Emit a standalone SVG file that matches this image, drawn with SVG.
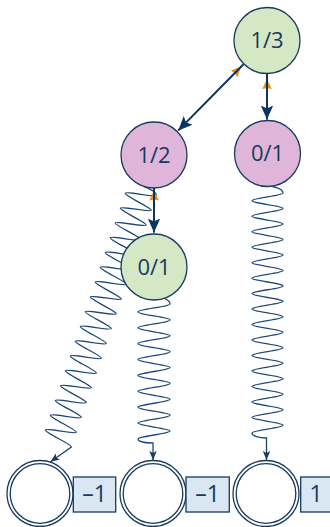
<svg xmlns="http://www.w3.org/2000/svg" width="330" height="527" viewBox="0 0 330 527">
  <style>
    .node { stroke: #173a5e; stroke-width: 1.3; }
    .green { fill: #d5e8c5; }
    .purple { fill: #dfb6d9; }
    .leaf { fill: #ffffff; stroke: #173a5e; stroke-width: 1.3; }
    .box { fill: #d8e7f2; stroke: #173a5e; stroke-width: 1.3; }
    .lbl { font-family: "Open Sans", "Noto Sans", sans-serif; font-size: 22px; fill: #173a5e; text-anchor: middle; }
    .val { font-size: 23px; }
    .spring { fill: none; stroke: #1d4676; stroke-width: 1.3; marker-end: url(#ah-spring); }
    .edge { fill: none; stroke: #0d3360; stroke-width: 2; marker-end: url(#ah-dark); }
    .back { fill: none; stroke: #ef8a10; stroke-width: 1; marker-end: url(#ah-orange); }
  </style>
  <defs>
    <marker id="ah-dark" markerUnits="userSpaceOnUse" markerWidth="16" markerHeight="14" refX="14" refY="6.2" orient="auto">
      <path d="M0,0 L14,6.2 L0,12.4 L3,6.2 z" fill="#0d3360"/>
    </marker>
    <marker id="ah-orange" markerUnits="userSpaceOnUse" markerWidth="12" markerHeight="12" refX="10" refY="5" orient="auto">
      <path d="M0,0.3 L10,5 L0,9.7 L1,5 z" fill="#f08a0c"/>
    </marker>
    <marker id="ah-spring" markerUnits="userSpaceOnUse" markerWidth="10" markerHeight="8" refX="9" refY="3.7" orient="auto">
      <path d="M0,0 L9,3.7 L0,7.4 L2,3.7 z" fill="#173a5e"/>
    </marker>
  </defs>

  <!-- connectors: coil springs to the leaves, and the double-headed tree edges -->
  <g id="connectors">
    <g transform="translate(154,155) rotate(18.64)">
      <path class="spring" d="M0,33 C7,33 15,35 15,37.7
        c0,2.7 -30,5.106 -30,7.806 c0,2.7 30,5.106 30,7.806
        c0,2.7 -30,5.106 -30,7.806 c0,2.7 30,5.106 30,7.806
        c0,2.7 -30,5.106 -30,7.806 c0,2.7 30,5.106 30,7.806
        c0,2.7 -30,5.106 -30,7.806 c0,2.7 30,5.106 30,7.806
        c0,2.7 -30,5.106 -30,7.806 c0,2.7 30,5.106 30,7.806
        c0,2.7 -30,5.106 -30,7.806 c0,2.7 30,5.106 30,7.806
        c0,2.7 -30,5.106 -30,7.806 c0,2.7 30,5.106 30,7.806
        c0,2.7 -30,5.106 -30,7.806 c0,2.7 30,5.106 30,7.806
        c0,2.7 -30,5.106 -30,7.806 c0,2.7 30,5.106 30,7.806
        c0,2.7 -30,5.106 -30,7.806 c0,2.7 30,5.106 30,7.806
        c0,2.7 -30,5.106 -30,7.806 c0,2.7 30,5.106 30,7.806
        c0,2.7 -30,5.106 -30,7.806 c0,2.7 30,5.106 30,7.806
        c0,2.7 -30,5.106 -30,7.806 c0,2.7 30,5.106 30,7.806
        c0,2.7 -30,5.106 -30,7.806 c0,2.7 30,5.106 30,7.806
        c0,2.7 -30,5.106 -30,7.806 c0,2.7 30,5.106 30,7.806
        c0,2.7 -30,5.106 -30,7.806 c0,2.7 30,5.106 30,7.806
        c0,2.7 -30,5.106 -30,7.806 c0,2.7 30,5.106 30,7.806
        L0,323.7"/>
    </g>
    <path class="spring" d="M154,296 C162,296 170,300 170,304
      c0,2.8 -32,5.14 -32,7.94 c0,2.8 32,5.14 32,7.94
      c0,2.8 -32,5.14 -32,7.94 c0,2.8 32,5.14 32,7.94
      c0,2.8 -32,5.14 -32,7.94 c0,2.8 32,5.14 32,7.94
      c0,2.8 -32,5.14 -32,7.94 c0,2.8 32,5.14 32,7.94
      c0,2.8 -32,5.14 -32,7.94 c0,2.8 32,5.14 32,7.94
      c0,2.8 -32,5.14 -32,7.94 c0,2.8 32,5.14 32,7.94
      c0,2.8 -32,5.14 -32,7.94 c0,2.8 32,5.14 32,7.94
      c0,2.8 -32,5.14 -32,7.94 c0,2.8 32,5.14 32,7.94
      c0,2.8 -32,5.14 -32,7.94
      C138,441.5 145,443 153,443 L153,460"/>
    <path class="spring" d="M267.5,186 C275,186 283,189.5 283,193
      c0,2.7 -31,5.04 -31,7.74 c0,2.7 31,5.04 31,7.74
      c0,2.7 -31,5.04 -31,7.74 c0,2.7 31,5.04 31,7.74
      c0,2.7 -31,5.04 -31,7.74 c0,2.7 31,5.04 31,7.74
      c0,2.7 -31,5.04 -31,7.74 c0,2.7 31,5.04 31,7.74
      c0,2.7 -31,5.04 -31,7.74 c0,2.7 31,5.04 31,7.74
      c0,2.7 -31,5.04 -31,7.74 c0,2.7 31,5.04 31,7.74
      c0,2.7 -31,5.04 -31,7.74 c0,2.7 31,5.04 31,7.74
      c0,2.7 -31,5.04 -31,7.74 c0,2.7 31,5.04 31,7.74
      c0,2.7 -31,5.04 -31,7.74 c0,2.7 31,5.04 31,7.74
      c0,2.7 -31,5.04 -31,7.74 c0,2.7 31,5.04 31,7.74
      c0,2.7 -31,5.04 -31,7.74 c0,2.7 31,5.04 31,7.74
      c0,2.7 -31,5.04 -31,7.74 c0,2.7 31,5.04 31,7.74
      c0,2.7 -31,5.04 -31,7.74 c0,2.7 31,5.04 31,7.74
      c0,2.7 -31,5.04 -31,7.74 c0,2.7 31,5.04 31,7.74
      c0,2.7 -31,5.04 -31,7.74 c0,2.7 31,5.04 31,7.74
      c0,2.7 -31,5.04 -31,7.74
      C252,436 259,438 266.5,438 L266.5,460"/>

    <!-- back pointers (orange) under the forward edges (dark) -->
    <path class="back" d="M177.2,131.5 L241,66.8"/>
    <path class="edge" d="M243.5,64.3 L178.3,130.4"/>
    <path class="back" d="M267,121 L267,79"/>
    <path class="edge" d="M267,73.5 L267,119.5"/>
    <path class="back" d="M154,234 L154,190.5"/>
    <path class="edge" d="M154,187.5 L154,232.5"/>
  </g>

  <g id="n-1-3">
    <circle class="node green" cx="267" cy="40.5" r="33"/>
    <text class="lbl" x="267" y="48.3">1/3</text>
  </g>
  <g id="n-1-2">
    <circle class="node purple" cx="154" cy="155" r="33"/>
    <text class="lbl" x="154" y="162.8">1/2</text>
  </g>
  <g id="n-0-1-right">
    <circle class="node purple" cx="267.5" cy="153.5" r="33"/>
    <text class="lbl" x="267.5" y="161.3">0/1</text>
  </g>
  <g id="n-0-1-mid">
    <circle class="node green" cx="154" cy="267" r="33"/>
    <text class="lbl" x="154" y="274.8">0/1</text>
  </g>

  <g id="leaf-1">
    <circle class="leaf" cx="40" cy="493.5" r="33"/>
    <circle class="leaf" cx="40" cy="493.5" r="29.8"/>
  </g>
  <g id="leaf-2">
    <circle class="leaf" cx="153" cy="493.5" r="33"/>
    <circle class="leaf" cx="153" cy="493.5" r="29.8"/>
  </g>
  <g id="leaf-3">
    <circle class="leaf" cx="266" cy="493.5" r="33"/>
    <circle class="leaf" cx="266" cy="493.5" r="29.8"/>
  </g>

  <g id="val-1">
    <rect class="box" x="73.3" y="477" width="42.4" height="35"/>
    <text class="lbl val" x="94.5" y="502.2">–1</text>
  </g>
  <g id="val-2">
    <rect class="box" x="186" y="477" width="43.3" height="35"/>
    <text class="lbl val" x="207.6" y="502.2">–1</text>
  </g>
  <g id="val-3">
    <rect class="box" x="300.7" y="477" width="31" height="35"/>
    <text class="lbl val" x="316" y="502.2">1</text>
  </g>
</svg>
